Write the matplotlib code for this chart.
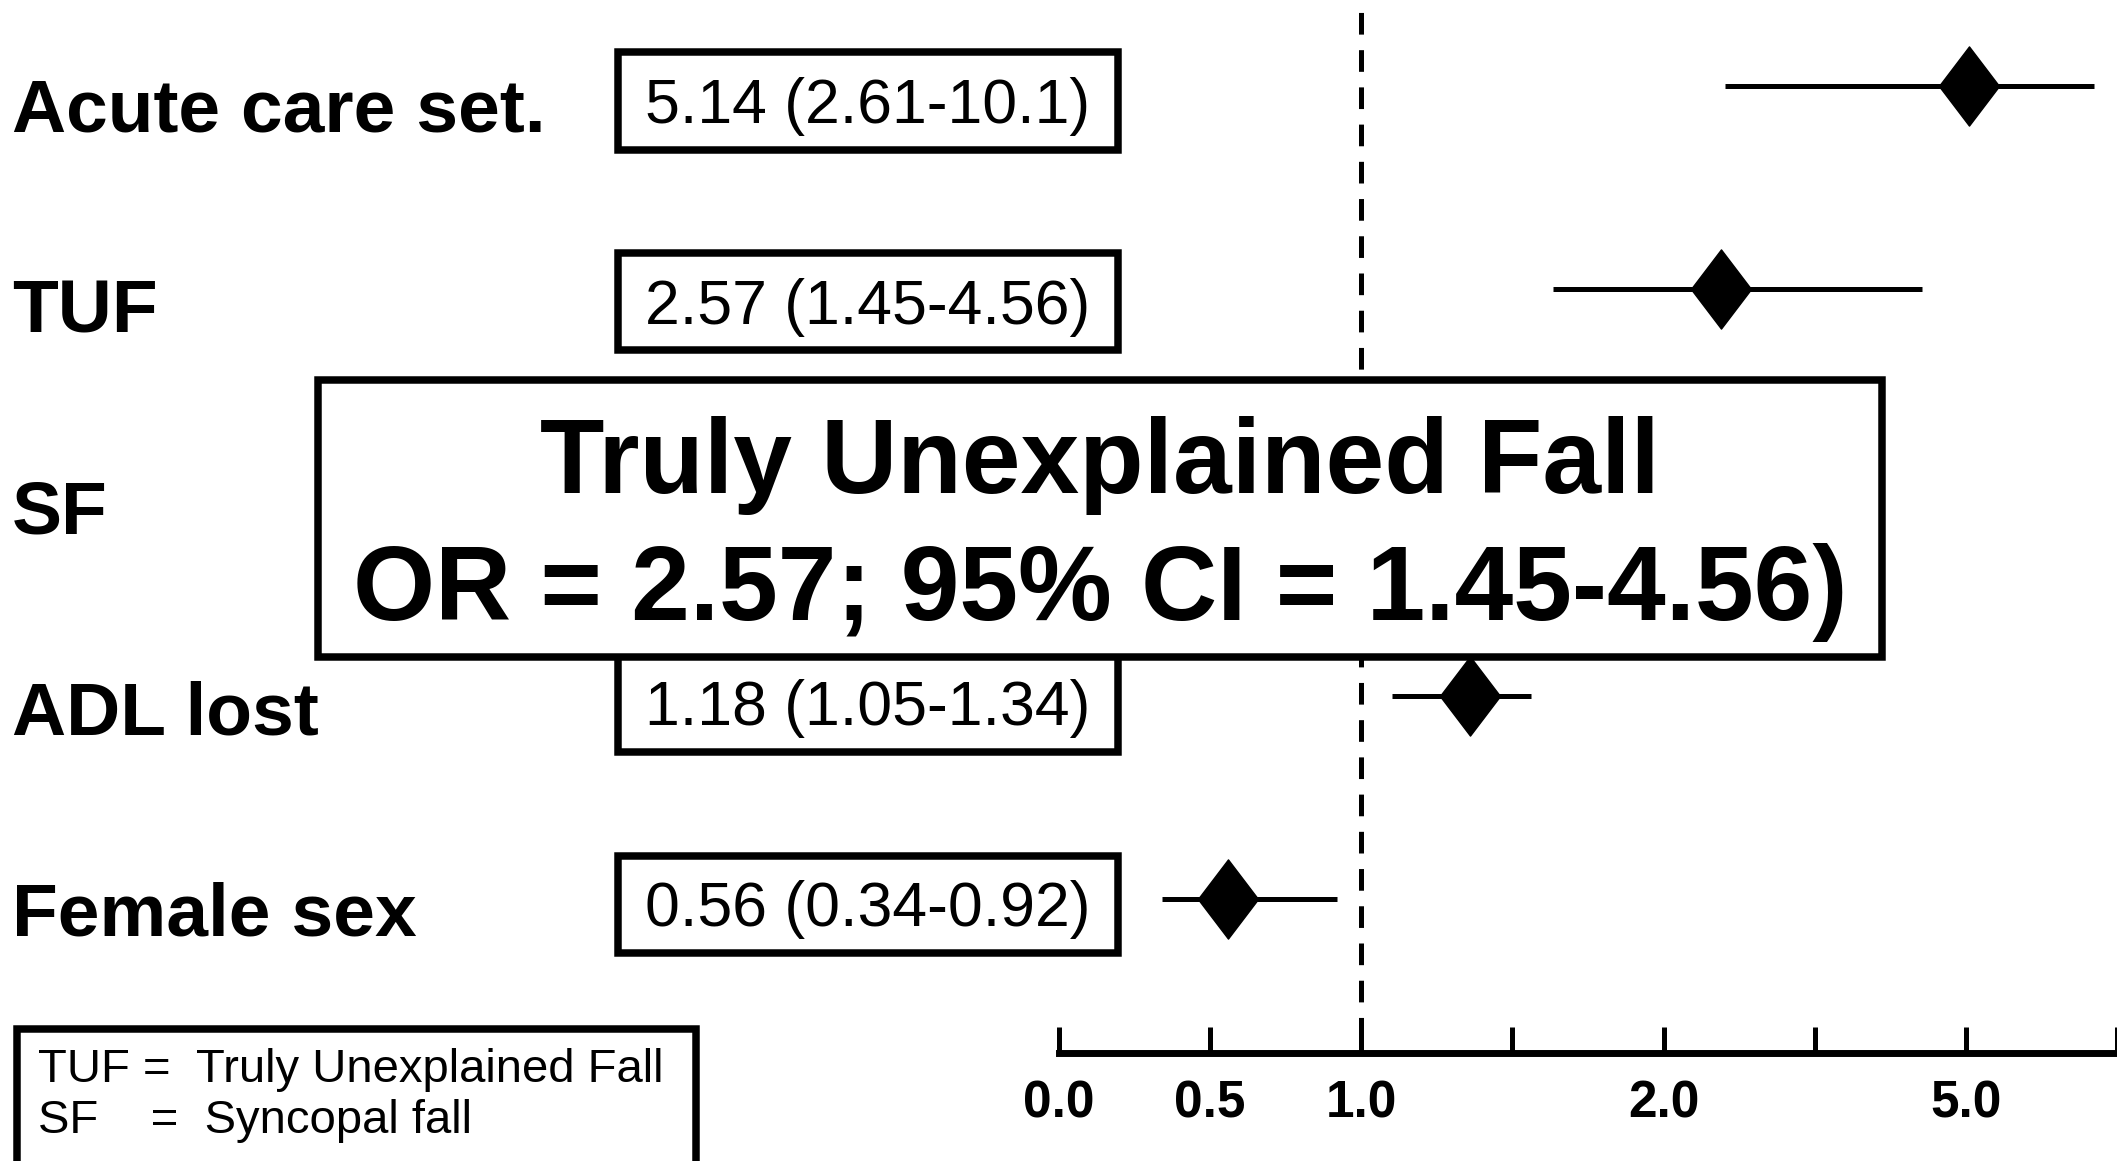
import numpy as np
import matplotlib
matplotlib.use("Agg")
import matplotlib.pyplot as plt
from matplotlib.patches import Rectangle

plt.rcParams["font.family"] = ["Liberation Sans", "DejaVu Sans"]
plt.rcParams["lines.scale_dashes"] = False

# rows, top to bottom
row_names = ["Acute care set.", "TUF", "SF", "ADL lost", "Female sex"]
row_pos = [5, 4, 3, 2, 1]

# odds ratios with 95% CI (SF is hidden under the headline box)
or_names = ["Acute care set.", "TUF", "ADL lost", "Female sex"]
or_value = [5.14, 2.57, 1.18, 0.56]
ci_low = [2.61, 1.45, 1.05, 0.34]
ci_high = [10.1, 4.56, 1.34, 0.92]

# piecewise axis: value knots and their evenly spaced positions
knot_values = [0, 0.5, 1, 1.25, 2, 5, 11]
knot_pos = [0, 1, 2, 3, 4, 6, 7]
tick_values = [0, 0.5, 1, 1.25, 2, 3.5, 5, 11]
tick_labels = ["0.0", "0.5", "1.0", "", "2.0", "", "5.0", ""]

legend_lines = ["TUF =  Truly Unexplained Fall", "SF    =  Syncopal fall"]

W, H = 2117, 1161


def fx(px):
    return px / W


def fy(py):
    return 1 - py / H


def forward(v):
    return np.interp(v, knot_values, knot_pos)


def inverse(p):
    return np.interp(p, knot_pos, knot_values)


def fmt(v):
    return f"{v:.3g}"


fig = plt.figure(figsize=(W / 100, H / 100), dpi=100)

# forest plot area
ax = fig.add_axes([fx(1059), fy(1053), 1 - fx(1059), 1053 / H])
ax.set_xscale("function", functions=(forward, inverse))
ax.set_xlim(0, 11)
ax.set_ylim(0.242, 5.423)
ax.patch.set_visible(False)
for side in ["top", "right", "left"]:
    ax.spines[side].set_visible(False)
ax.spines["bottom"].set_linewidth(5)
ax.set_yticks([])
ax.set_xticks(tick_values, tick_labels, fontsize=37, fontweight="bold")
ax.tick_params(axis="x", direction="in", length=18.5, width=3.6, pad=19)

ax.axvline(1.0, color="black", lw=3.6, linestyle=(16.8, (15.6, 11.2)), zorder=1)

y = [row_pos[row_names.index(n)] for n in or_names]
ax.hlines(y, ci_low, ci_high, color="black", lw=3.6, zorder=2)
diamond = [(-0.38, 0), (0, 0.5), (0.38, 0), (0, -0.5), (-0.38, 0)]
ax.plot(or_value, y, linestyle="none", marker=diamond, ms=57,
        color="black", zorder=3)

# row labels on the left
label_base = [132 + 200.8 * i for i in range(len(row_names))]
for name, b in zip(row_names, label_base):
    fig.text(fx(12), fy(b), name, fontsize=54, fontweight="bold",
             ha="left", va="baseline")

# boxed OR (CI) values
for name, v, lo, hi in zip(or_names, or_value, ci_low, ci_high):
    b = label_base[row_names.index(name)]
    cy = b - 31
    fig.add_artist(Rectangle((fx(618), fy(cy + 48.5)), 500 / W, 97 / H,
                             transform=fig.transFigure, facecolor="white",
                             edgecolor="black", lw=5.4, zorder=4))
    fig.text(fx(868), fy(cy + 22), f"{fmt(v)} ({fmt(lo)}-{fmt(hi)})",
             fontsize=45, ha="center", va="baseline", zorder=5)

# headline box for TUF
k = or_names.index("TUF")
fig.add_artist(Rectangle((fx(318), fy(657)), (1882 - 318) / W, (657 - 380) / H,
                         transform=fig.transFigure, facecolor="white",
                         edgecolor="black", lw=5.4, zorder=10))
fig.text(fx(1100), fy(493), "Truly Unexplained Fall", fontsize=76,
         fontweight="bold", ha="center", va="baseline", zorder=11)
fig.text(fx(1100), fy(620),
         f"OR = {fmt(or_value[k])}; 95% CI = {fmt(ci_low[k])}-{fmt(ci_high[k])})",
         fontsize=76, fontweight="bold", ha="center", va="baseline", zorder=11)

# abbreviation key
fig.add_artist(Rectangle((fx(17), fy(1220)), (696 - 17) / W, (1220 - 1029) / H,
                         transform=fig.transFigure, facecolor="white",
                         edgecolor="black", lw=5.4, zorder=4))
for line, b in zip(legend_lines, [1082, 1133]):
    fig.text(fx(38), fy(b), line, fontsize=34, ha="left", va="baseline", zorder=5)

fig.savefig("out.png", dpi=100)
